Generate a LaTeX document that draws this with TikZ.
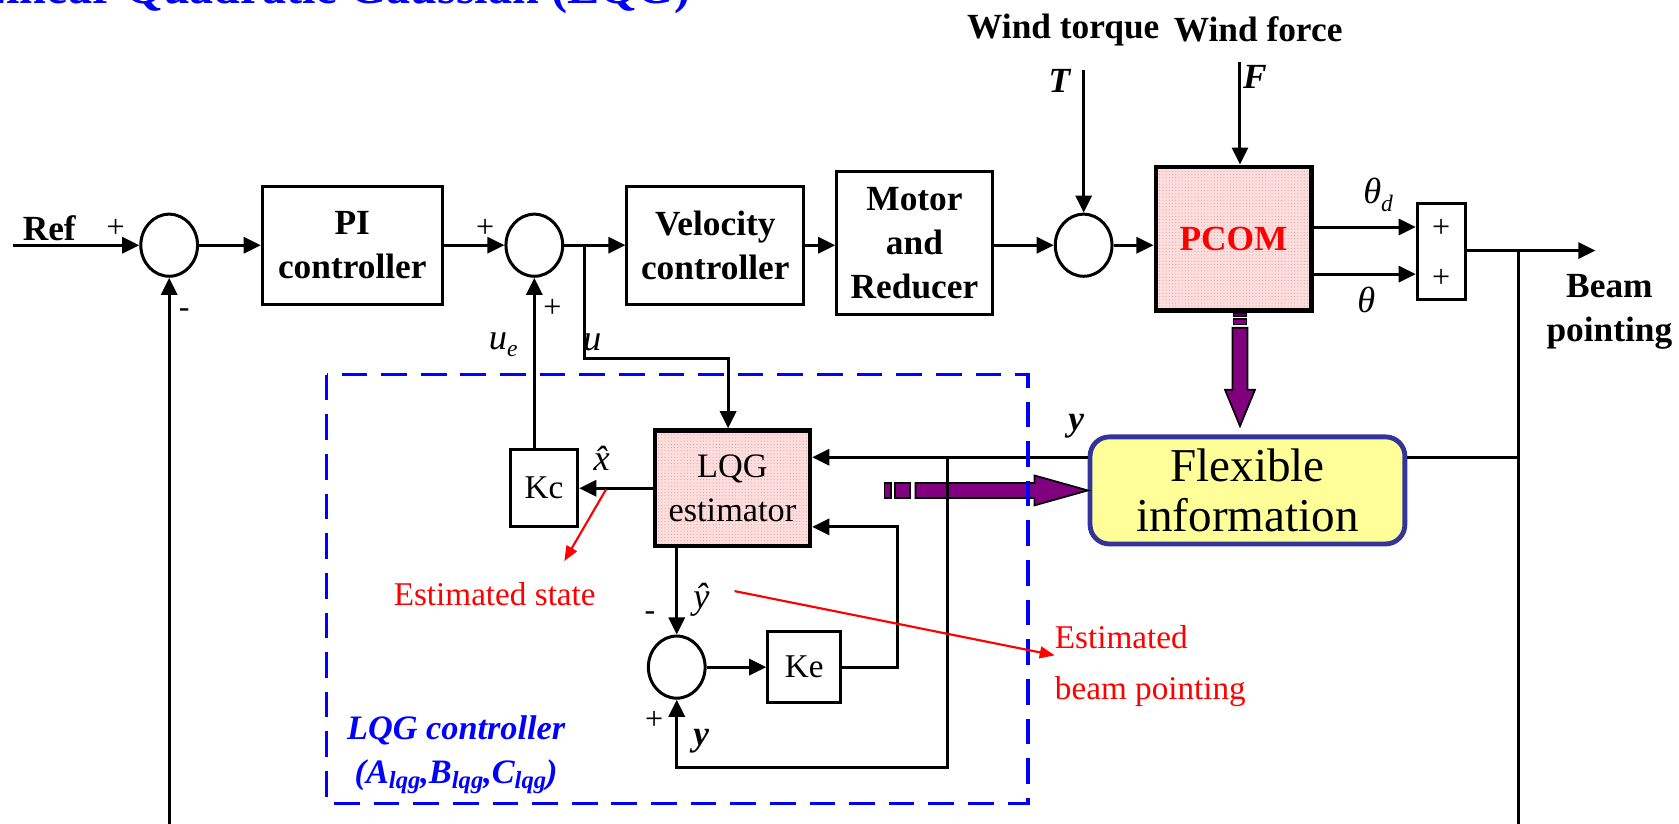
\documentclass[tikz,border=0pt]{standalone}
\usepackage{fontspec}
\setmainfont{Liberation Serif}
\usetikzlibrary{arrows.meta,shapes.geometric,patterns}

\definecolor{pcompink}{RGB}{252,222,222}
\definecolor{pcomdot}{RGB}{232,150,150}
\definecolor{flexfill}{RGB}{255,255,153}
\definecolor{flexedge}{RGB}{51,51,153}
\definecolor{arrowpurple}{RGB}{128,0,128}
\definecolor{lqgblue}{RGB}{0,0,255}

\newcommand{\lblfont}{\fontsize{33}{41}\selectfont\bfseries}
\newcommand{\lqgsub}{\raisebox{-5pt}{\fontsize{23}{23}\selectfont lqg}}
\newcommand{\lowsub}[1]{\raisebox{-7pt}{\fontsize{22}{22}\selectfont\textit{#1}}}

\begin{document}
\begin{tikzpicture}[x=1pt,y=-1pt,
  >={Triangle[length=16pt,width=15pt]},
  wire/.style={line width=2.8pt},
  blk/.style={draw,line width=2.8pt,inner sep=0pt,align=center,font=\lblfont},
  sumc/.style={draw,ellipse,line width=2.8pt,minimum width=53pt,minimum height=58pt,inner sep=0pt},
  gain/.style={draw,line width=2.8pt,inner sep=0pt,font=\fontsize{31}{31}\selectfont},
  lbl/.style={inner sep=0pt,font=\lblfont,align=center},
  sgn/.style={inner sep=0pt,font=\fontsize{30}{30}\selectfont},
  mlbl/.style={inner sep=0pt,font=\fontsize{34}{34}\selectfont\itshape},
  note/.style={inner sep=0pt,text=red,align=left,font=\fontsize{31}{48}\selectfont},
  redarr/.style={red,line width=2pt,-{Triangle[length=14pt,width=11pt]}},
  purp/.style={fill=arrowpurple,draw=black,line width=1.6pt},
]
\useasboundingbox (0,0) rectangle (1568,769);

% title, cut at the top edge
\node[anchor=base east,inner sep=0pt,text=lqgblue,font=\fontsize{45}{45}\selectfont\bfseries] (title) at (645,3) {Linear Quadratic Gaussian (LQG)};

% forward path
\coordinate (refin) at (12,229);
\node[sumc] (sum1) at (158,229) {};
\node[blk,minimum width=168pt,minimum height=110pt] (pi) at (329,229) {PI\\controller};
\node[sumc] (sum2) at (499,229) {};
\node[blk,minimum width=165pt,minimum height=110pt] (vel) at (668,229) {Velocity\\controller};
\node[blk,minimum width=145pt,minimum height=134pt] (motor) at (854,227) {Motor\\and\\Reducer};
\node[sumc] (sum3) at (1012,229) {};
\node[draw,line width=4.5pt,preaction={fill=pcompink},pattern=dots,pattern color=pcomdot,
  minimum width=145pt,minimum height=134pt,text=red,font=\fontsize{33}{33}\selectfont\bfseries] (pcom) at (1152,223) {PCOM};
\node[draw,line width=2.5pt,minimum width=45pt,minimum height=90pt] (plusbox) at (1346,235) {};
\node[sgn] at ([yshift=22pt]plusbox) {+};
\node[sgn] at ([yshift=-25pt]plusbox) {+};
\coordinate (thdin) at ([yshift=23pt]plusbox.west);
\coordinate (thin) at ([yshift=-21pt]plusbox.west);

% disturbances
\coordinate (torquein) at (1012,65);
\coordinate (forcein) at (1158,58);
\node[lbl,anchor=base] (torquelbl) at (993,36) {Wind torque};
\node[lbl,anchor=base] (forcelbl) at (1175,39) {Wind force};
\node[lbl,anchor=base] (tlbl) at (990,86) {\textit{T}};
\node[lbl,anchor=base] (flbl) at (1172,83) {\textit{F}};

% LQG part
\node[draw,line width=4pt,preaction={fill=pcompink},pattern=dots,pattern color=pcomdot,
  minimum width=145pt,minimum height=108pt,align=center,font=\fontsize{32}{41}\selectfont] (lqg) at (684,456) {LQG\\estimator};
\node[gain,minimum width=63pt,minimum height=72pt] (kc) at (508,456) {Kc};
\node[sumc] (sum4) at (632,623) {};
\node[gain,minimum width=68pt,minimum height=67pt] (ke) at (751,623) {Ke};
\node[draw=flexedge,fill=flexfill,line width=4.5pt,rounded corners=18pt,minimum width=294pt,
  minimum height=100pt,align=center,font=\fontsize{44}{46}\selectfont] (flex) at (1165,458) {Flexible\\information};

% purple flows
\draw[purp] (1152,292) rectangle (1164,295);
\draw[purp] (1152,298) rectangle (1164,303);
\draw[purp] (1151,306) -- (1165,306) -- (1165,364) -- (1172,364) -- (1158,398) -- (1144,364) -- (1151,364) -- cycle;
\draw[purp] (826,451) rectangle (832,465);
\draw[purp] (836,451) rectangle (850,465);
\draw[purp] (855,451) -- (966,451) -- (966,444) -- (1016,458) -- (966,472) -- (966,465) -- (855,465) -- cycle;

% connectors
\coordinate (ubr) at (546,229);
\coordinate (ucorner) at (680,335);
\coordinate (tap) at (1418,234);
\coordinate (beamout) at (1490,234);
\coordinate (ytap) at (1418,427);
\coordinate (ybr) at (885,427);
\coordinate (ybot) at (885,717);
\coordinate (kex) at (838,492);
\coordinate (fbbot) at (158,790);
\coordinate (tapbot) at (1418,790);

\draw[wire,->] (refin) -- (sum1.west);
\draw[wire,->] (sum1.east) -- (pi.west |- sum1);
\draw[wire,->] (pi.east |- sum2) -- (sum2.west);
\draw[wire,->] (sum2.east) -- (vel.west |- sum2);
\draw[wire,->] (vel.east |- sum2) -- (motor.west |- sum2);
\draw[wire,->] (motor.east |- sum3) -- (sum3.west);
\draw[wire,->] (sum3.east) -- (pcom.west |- sum3);
\draw[wire,->] (torquein) -- (sum3.north);
\draw[wire,->] (forcein) -- (forcein |- pcom.north);
\draw[wire,->] (pcom.east |- thdin) -- (thdin);
\draw[wire,->] (pcom.east |- thin) -- (thin);
\draw[wire,->] (plusbox.east |- tap) -- (beamout);
\draw[wire] (tap) -- (tapbot);
\draw[wire,->] (fbbot) -- (sum1.south);
\draw[wire,->] (ubr) |- (ucorner) -- (ucorner |- lqg.north);
\draw[wire,->] (lqg.west |- kc) -- (kc.east);
\draw[wire,->] (kc.north -| sum2) -- (sum2.south);
\draw[wire] (ytap) -- (flex.east |- ytap);
\draw[wire,->] (flex.west |- ytap) -- (lqg.east |- ytap);
\draw[wire,->] (ybr) -- (ybot) -- (sum4 |- ybot) -- (sum4.south);
\draw[wire,->] (lqg.south -| sum4) -- (sum4.north);
\draw[wire,->] (sum4.east) -- (ke.west);
\draw[wire,->] (ke.east) -| (kex) -- (lqg.east |- kex);

% LQG controller frame
\draw[lqgblue,line width=3pt,dash pattern=on 24pt off 13pt] (305,350) rectangle (960,750);
\node[inner sep=0pt,text=lqgblue,align=center,font=\fontsize{32}{41}\selectfont\bfseries\itshape] (lqglbl) at (426,705)
  {LQG controller\\(A\lqgsub,B\lqgsub,C\lqgsub)};

% signs and signal names
\node[lbl] (reflbl) at (46,213) {Ref};
\node[sgn] at (108,213) {+};
\node[sgn] at (172,292) {-};
\node[sgn] at (453,213) {+};
\node[sgn] at (516,288) {+};
\node[sgn] at (607,575) {-};
\node[sgn] at (611,673) {+};
\node[mlbl] (uelbl) at (470,322) {u\lowsub{e}};
\node[mlbl] (ulbl) at (553,320) {u};
\node[mlbl] (thdlbl) at (1287,182) {θ\lowsub{d}};
\node[mlbl] (thlbl) at (1276,280) {θ};
\node[lbl] (beamlbl) at (1503,291) {Beam\\pointing};
\node[lbl] (ylbl1) at (1005,398) {\textit{y}};
\node[lbl] (ylbl2) at (655,692) {\textit{y}};
\node[mlbl] (xhatlbl) at (562,428) {\^{x}};
\node[mlbl] (yhatlbl) at (655,560) {\^{y}};

% red notes
\coordinate (xhatpt) at (566,457);
\coordinate (eststtip) at (527,524);
\coordinate (yhatpt) at (686,552);
\coordinate (estbptip) at (985,612);
\node[note] (estst) at (462,555) {Estimated state};
\node[note,anchor=north west] (estbp) at (985,584) {Estimated\\beam pointing};
\draw[redarr] (xhatpt) -- (eststtip);
\draw[redarr] (yhatpt) -- (estbptip);
\end{tikzpicture}
\end{document}
